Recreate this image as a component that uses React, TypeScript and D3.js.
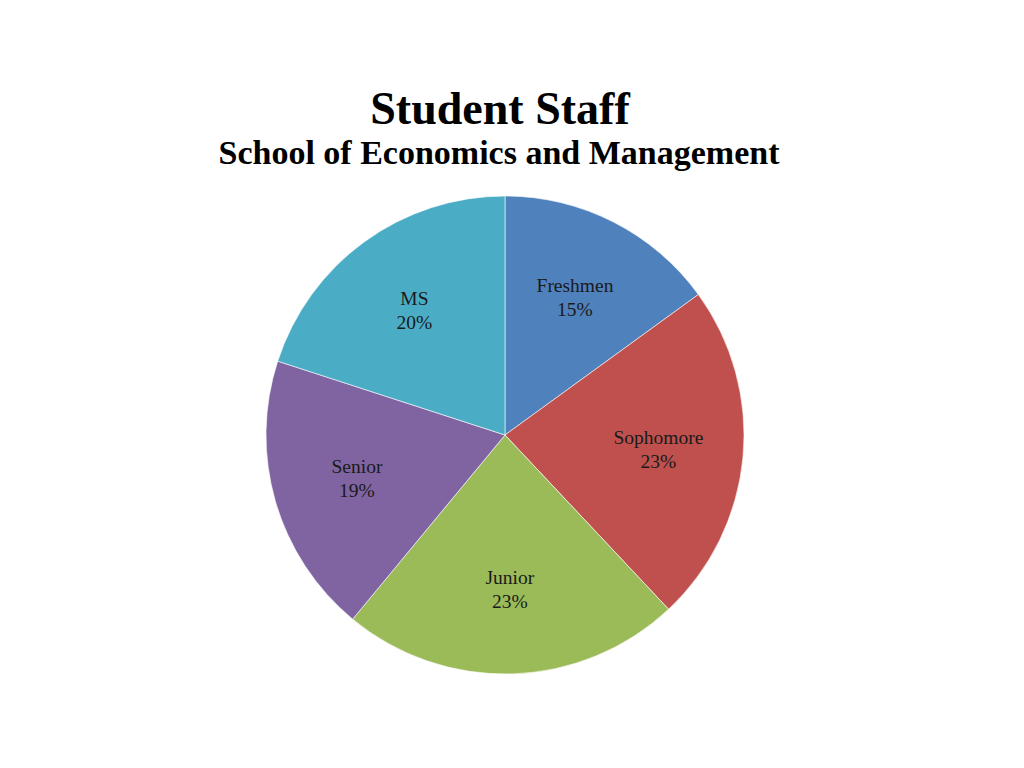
import * as d3 from "d3";

// Pie chart of student staff by class year
const categories = ["Freshmen", "Sophomore", "Junior", "Senior", "MS"];
const shares = [15, 23, 23, 19, 20];
const colors = ["#4F81BD", "#C0504D", "#9BBB59", "#8064A2", "#4BACC6"];

const W = 1024;
const H = 768;
const cx = 505;
const cy = 435;
const radius = 239;
const serif = "'Liberation Serif', 'Times New Roman', serif";

export default function App() {
  const data = categories.map((c, i) => ({ name: c, value: shares[i], color: colors[i] }));
  const pie = d3
    .pie<(typeof data)[0]>()
    .value((d) => d.value)
    .sort(null)
    .startAngle(0)
    .endAngle(2 * Math.PI);
  const arcs = pie(data);
  const arc = d3.arc<d3.PieArcDatum<(typeof data)[0]>>().innerRadius(0).outerRadius(radius);
  const labelArc = d3
    .arc<d3.PieArcDatum<(typeof data)[0]>>()
    .innerRadius(radius * 0.645)
    .outerRadius(radius * 0.645);

  return (
    <div style={{ position: "absolute", left: 0, top: 0 }}>
      <svg width={W} height={H} style={{ display: "block", background: "#fff" }}>
        <text x={500} y={124} textAnchor="middle" fontFamily={serif} fontWeight={700} fontSize={46} fill="#000">
          Student Staff
        </text>
        <text x={499} y={164} textAnchor="middle" fontFamily={serif} fontWeight={700} fontSize={34} fill="#000">
          School of Economics and Management
        </text>
        <g transform={`translate(${cx},${cy})`}>
          {arcs.map((a) => (
            <path key={a.data.name} d={arc(a) ?? ""} fill={a.data.color} stroke="#fff" strokeWidth={0.6} />
          ))}
          {arcs.map((a) => {
            const [lx, ly] = labelArc.centroid(a);
            return (
              <text
                key={a.data.name}
                x={lx}
                y={ly}
                textAnchor="middle"
                fontFamily={serif}
                fontSize={19.5}
                fill="#1a1a1a"
              >
                <tspan x={lx} dy={-5.5}>
                  {a.data.name}
                </tspan>
                <tspan x={lx} dy={24}>
                  {a.data.value}%
                </tspan>
              </text>
            );
          })}
        </g>
      </svg>
    </div>
  );
}
